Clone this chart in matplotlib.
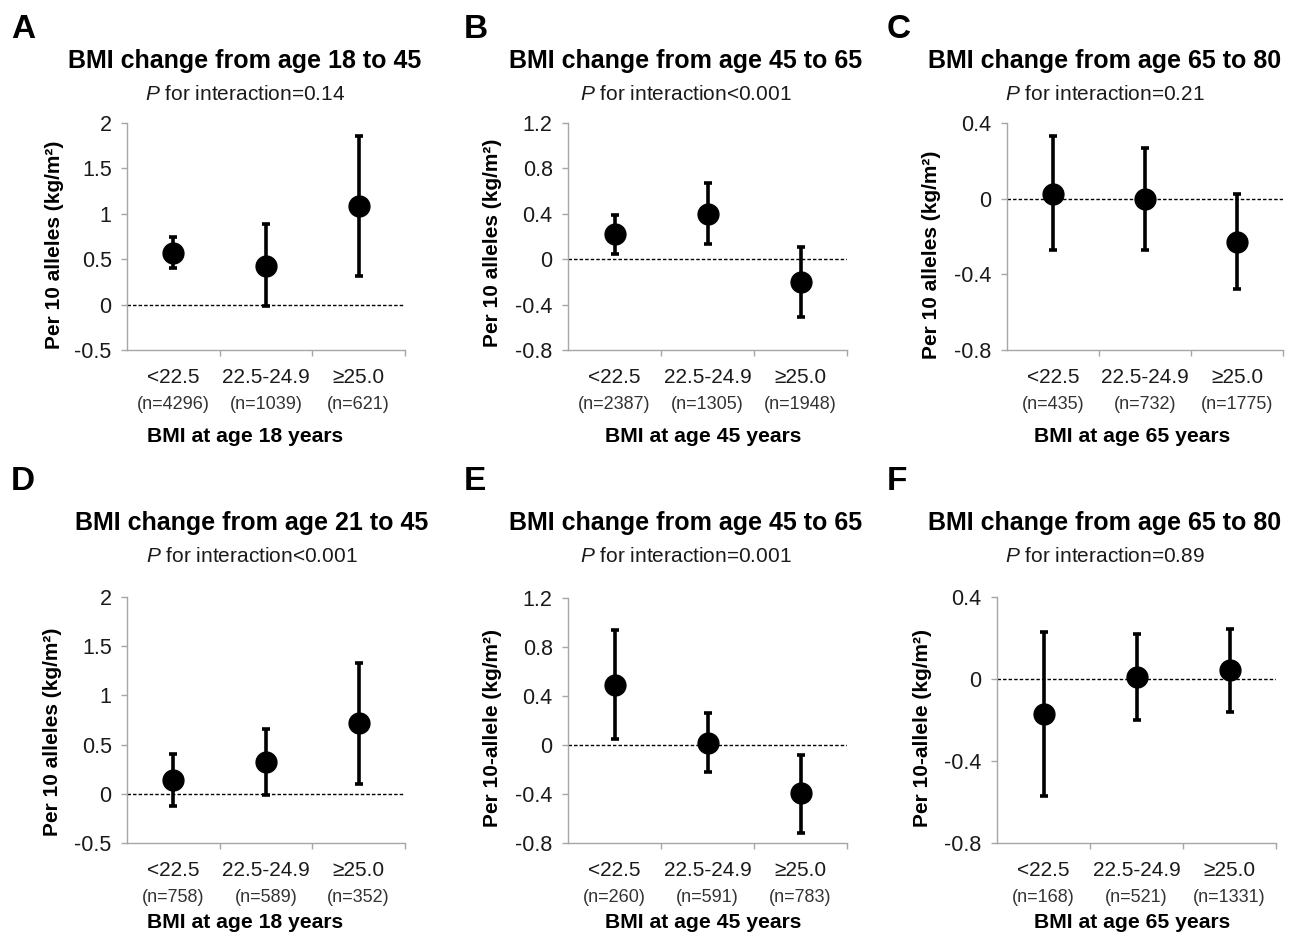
import numpy as np
import matplotlib
matplotlib.use("Agg")
import matplotlib.pyplot as plt
from matplotlib.ticker import FuncFormatter

plt.rcParams['font.family'] = ['Liberation Sans', 'DejaVu Sans']
plt.rcParams['mathtext.fontset'] = 'custom'
plt.rcParams['mathtext.it'] = 'Liberation Sans:italic'
plt.rcParams['mathtext.rm'] = 'Liberation Sans'

# data
categories = ['<22.5', '22.5-24.9', '\u226525.0']
letters = ['A', 'B', 'C', 'D', 'E', 'F']
titles = ['BMI change from age 18 to 45', 'BMI change from age 45 to 65',
          'BMI change from age 65 to 80', 'BMI change from age 21 to 45',
          'BMI change from age 45 to 65', 'BMI change from age 65 to 80']
p_texts = ['=0.14', '<0.001', '=0.21', '<0.001', '=0.001', '=0.89']
xlabels = ['BMI at age 18 years', 'BMI at age 45 years', 'BMI at age 65 years',
           'BMI at age 18 years', 'BMI at age 45 years', 'BMI at age 65 years']
ylabels = ['Per 10 alleles (kg/m\u00b2)'] * 4 + ['Per 10-allele (kg/m\u00b2)'] * 2
n_counts = [[4296, 1039, 621], [2387, 1305, 1948], [435, 732, 1775],
            [758, 589, 352], [260, 591, 783], [168, 521, 1331]]

est_a = [0.57, 0.43, 1.09]
lo_a = [0.40, -0.01, 0.32]
hi_a = [0.74, 0.89, 1.86]
est_b = [0.22, 0.40, -0.20]
lo_b = [0.05, 0.135, -0.51]
hi_b = [0.39, 0.67, 0.11]
est_c = [0.026, 0.0, -0.23]
lo_c = [-0.27, -0.27, -0.48]
hi_c = [0.33, 0.27, 0.025]
est_d = [0.14, 0.32, 0.72]
lo_d = [-0.12, -0.01, 0.10]
hi_d = [0.405, 0.66, 1.33]
est_e = [0.49, 0.02, -0.39]
lo_e = [0.046, -0.22, -0.72]
hi_e = [0.94, 0.26, -0.08]
est_f = [-0.17, 0.008, 0.044]
lo_f = [-0.57, -0.20, -0.16]
hi_f = [0.227, 0.22, 0.246]

ests = [est_a, est_b, est_c, est_d, est_e, est_f]
los = [lo_a, lo_b, lo_c, lo_d, lo_e, lo_f]
his = [hi_a, hi_b, hi_c, hi_d, hi_e, hi_f]
yticks = [np.arange(-0.5, 2.01, 0.5), np.arange(-0.8, 1.21, 0.4), np.arange(-0.8, 0.41, 0.4)] * 2

W, H = 1293, 948
fig = plt.figure(figsize=(W / 100, H / 100), dpi=100)

# axes boxes in pixels: left, top, right, bottom
boxes = [(127, 123, 405, 350), (568, 123, 847, 350), (1007, 123, 1283, 350),
         (127, 597, 405, 843), (568, 598, 847, 843), (997, 597, 1276, 843)]
letter_x = [11, 464, 887, 11, 464, 887]
title_cx = [245, 686, 1105, 252, 686, 1105]
xlab_cx = [245, 703, 1132, 245, 703, 1132]
ylab_x = [55, 493, 932, 52, 493, 922]
ylab_cy = [245, 243, 255, 732, 728, 728]

spine_col = '#a6a6a6'

for i in range(6):
    l, t, r, b = boxes[i]
    ax = fig.add_axes([l / W, 1 - b / H, (r - l) / W, (b - t) / H])
    x = np.arange(3)
    est = np.array(ests[i])
    yerr = [est - np.array(los[i]), np.array(his[i]) - est]
    ax.axhline(0, color='black', lw=1.0, ls=(0, (2.5, 1.5)), zorder=1)
    ax.errorbar(x, est, yerr=yerr, fmt='o', color='black', ms=15, elinewidth=2.6,
                capsize=3.2, capthick=2.6, zorder=3)
    ax.set_xlim(-0.5, 2.5)
    yt = yticks[i]
    ax.set_ylim(yt[0], yt[-1])
    ax.set_yticks(yt)
    ax.yaxis.set_major_formatter(FuncFormatter(lambda v, p: '%g' % round(v, 2)))
    ax.set_xticks([0.5, 1.5, 2.5])
    ax.set_xticklabels([])
    for s in ['top', 'right']:
        ax.spines[s].set_visible(False)
    for s in ['left', 'bottom']:
        ax.spines[s].set_color(spine_col)
        ax.spines[s].set_linewidth(1.0)
    ax.tick_params(axis='both', color=spine_col, length=4, width=1.0, direction='out')
    ax.tick_params(axis='y', labelsize=15.5, pad=7, labelcolor='#1a1a1a')

    for k in range(3):
        ax.annotate(categories[k], xy=(k, 0), xycoords=('data', 'axes fraction'),
                    xytext=(0, -19.5), textcoords='offset points', ha='center', va='center',
                    fontsize=15, color='#1a1a1a')
        ax.annotate('(n=%d)' % n_counts[i][k], xy=(k, 0), xycoords=('data', 'axes fraction'),
                    xytext=(0, -39.5), textcoords='offset points', ha='center', va='center',
                    fontsize=13, color='#333333')

    top_row = i < 3
    y_letter = 38 if top_row else 490
    y_title = 68 if top_row else 530
    y_sub = 100 if top_row else 562
    y_xlab = b + (87 if top_row else 80)
    fig.text(letter_x[i] / W, 1 - y_letter / H, letters[i], fontsize=24, fontweight='bold',
             ha='left', va='baseline')
    fig.text(title_cx[i] / W, 1 - y_title / H, titles[i], fontsize=18, fontweight='bold',
             ha='center', va='baseline')
    fig.text(title_cx[i] / W, 1 - y_sub / H, r'$\it{P}$ for interaction' + p_texts[i],
             fontsize=15, ha='center', va='baseline', color='#1a1a1a')
    fig.text(xlab_cx[i] / W, 1 - y_xlab / H, xlabels[i], fontsize=15.2, fontweight='bold',
             ha='center', va='center')
    fig.text(ylab_x[i] / W, 1 - ylab_cy[i] / H, ylabels[i], fontsize=15, fontweight='bold',
             rotation=90, ha='center', va='center')

fig.savefig('out.png', dpi=100, facecolor='white')
